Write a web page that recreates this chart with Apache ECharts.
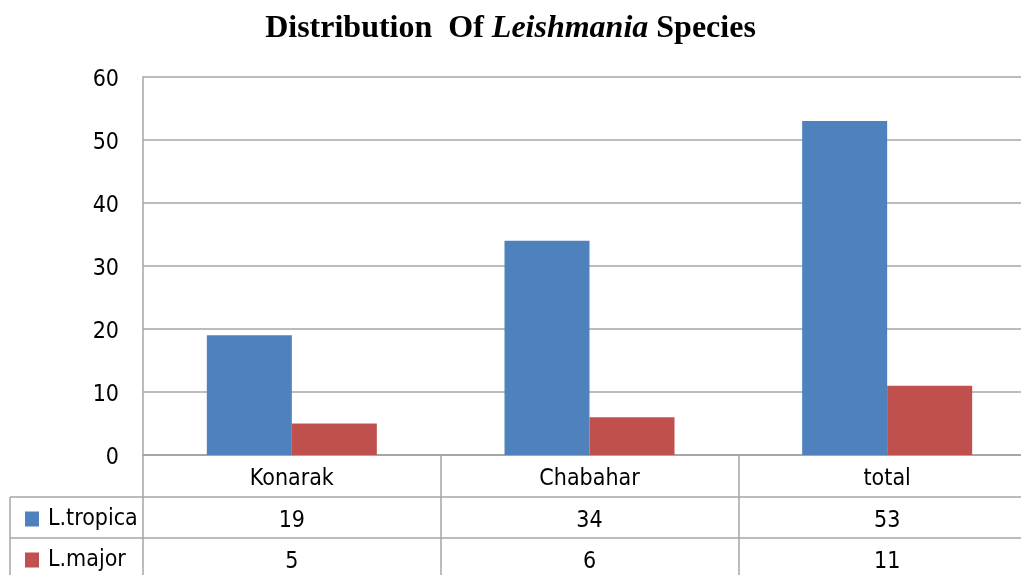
<!DOCTYPE html>
<html><head><meta charset="utf-8">
<script src="https://cdn.jsdelivr.net/npm/echarts@6/dist/echarts.min.js"></script>
<style>html,body{margin:0;padding:0;background:#fff}#c{width:1021px;height:575px}</style>
</head><body><div id="c"></div>
<script>
var categories = ['Konarak', 'Chabahar', 'total'];
var seriesNames = ['L.tropica', 'L.major'];
var tropica = [19, 34, 53];
var major = [5, 6, 11];
var yTicks = { min: 0, max: 60, interval: 10 };

var lineColor = '#a6a6a6';
var font = 'DejaVu Sans Condensed, DejaVu Sans';
var fs = 23;
var chart = echarts.init(document.getElementById('c'));

function tableAxis(data, offset) {
  return {
    type: 'category', data: data.map(String), position: 'bottom', offset: offset,
    axisLine: { show: true, lineStyle: { color: lineColor, width: 1.5 } },
    axisTick: { show: true, interval: 0, length: 41, lineStyle: { color: lineColor, width: 1.5 } },
    axisLabel: { interval: 0, margin: 13, fontFamily: font, fontSize: fs, color: '#000' },
    splitLine: { show: false }
  };
}

function legendRow(name, top) {
  return {
    data: [name], orient: 'horizontal', left: 20, top: top,
    icon: 'rect', itemWidth: 14, itemHeight: 15,
    selectedMode: false,
    textStyle: { fontFamily: font, fontSize: fs, color: '#000', lineHeight: 24, padding: [0, 0, 0, 4] }
  };
}

chart.setOption({
  animation: false,
  backgroundColor: '#fff',
  title: {
    text: '{b|Distribution  Of }{i|Leishmania}{b| Species}',
    left: 'center', top: 8,
    textStyle: {
      rich: {
        b: { fontFamily: 'Liberation Serif', fontWeight: 'bold', fontSize: 32, color: '#000' },
        i: { fontFamily: 'Liberation Serif', fontWeight: 'bold', fontStyle: 'italic', fontSize: 32, color: '#000' }
      }
    }
  },
  legend: [legendRow(seriesNames[0], 502), legendRow(seriesNames[1], 543)],
  grid: { left: 143, top: 77, width: 893, height: 378, outerBoundsMode: 'none' },
  xAxis: [
    {
      type: 'category', data: categories, position: 'bottom',
      axisLine: { show: true, lineStyle: { color: lineColor, width: 2 } },
      axisTick: { show: true, interval: 0, length: 42, lineStyle: { color: lineColor, width: 1.5 } },
      axisLabel: { interval: 0, margin: 13, fontFamily: font, fontSize: fs, color: '#000' }
    },
    tableAxis(tropica, 42),
    tableAxis(major, 83)
  ],
  yAxis: {
    type: 'value', min: yTicks.min, max: yTicks.max, interval: yTicks.interval,
    axisLine: { show: true, lineStyle: { color: lineColor, width: 1.5 } },
    axisTick: { show: false },
    axisLabel: {
      margin: 24, formatter: '{v|{value}}',
      rich: { v: { fontFamily: font, fontSize: fs, color: '#000', lineHeight: 24, padding: [6, 0, 0, 0] } }
    },
    splitLine: { show: true, lineStyle: { color: lineColor, width: 1.5 } }
  },
  series: [
    { name: seriesNames[0], type: 'bar', data: tropica, barWidth: 85, barGap: '0%',
      itemStyle: { color: '#4f81bd' } },
    { name: seriesNames[1], type: 'bar', data: major, barWidth: 85, barGap: '0%',
      itemStyle: { color: '#c0504d' } }
  ],
  graphic: [
    { type: 'line', shape: { x1: 10, y1: 497, x2: 143, y2: 497 }, style: { stroke: lineColor, lineWidth: 1.5 } },
    { type: 'line', shape: { x1: 10, y1: 538, x2: 143, y2: 538 }, style: { stroke: lineColor, lineWidth: 1.5 } },
    { type: 'line', shape: { x1: 10, y1: 497, x2: 10, y2: 575 }, style: { stroke: lineColor, lineWidth: 1.5 } }
  ]
});
</script></body></html>
